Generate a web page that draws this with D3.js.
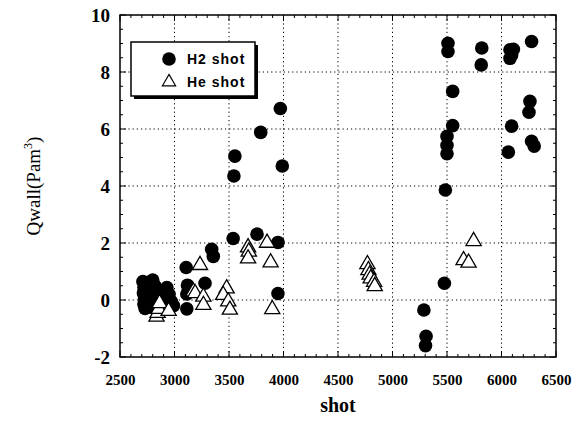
<!DOCTYPE html>
<html>
<head>
<meta charset="utf-8">
<script src="https://cdn.jsdelivr.net/npm/d3@7"></script>
<style>
  body { margin: 0; background: #fff; }
</style>
</head>
<body>
<div id="chart"></div>
<script>
// H2 shots: [shot, Qwall]
var h2Shots = [
    [2710,0.65],[2720,0.45],[2715,0.25],[2725,0.05],[2720,-0.15],[2730,-0.3],
    [2760,0.6],[2770,0.35],[2780,0.1],[2790,-0.1],[2800,0.7],[2820,0.5],
    [2830,0.3],[2850,0.15],[2760,-0.25],[2900,0.1],[2930,0.44],[2950,0.2],
    [2991,-0.2],[2970,-0.05],[2740,0.15],[2800,-0.25],
    [3107,1.14],[3119,0.52],[3113,0.21],[3113,-0.31],[3280,0.59],[3341,1.78],
    [3356,1.53],[3538,2.16],[3757,2.31],[3949,2.02],[3949,0.23],[3545,4.35],
    [3554,5.05],[3791,5.88],[3971,6.72],[3989,4.70],
    [5509,9.01],[5509,8.72],[5819,8.84],[5814,8.25],[6078,8.78],[6093,8.60],
    [6078,8.48],[6109,8.8],[6276,9.07],[5552,7.32],[5552,6.12],[6261,6.97],
    [6252,6.59],[6093,6.10],[5500,5.74],[5500,5.43],[5500,5.13],[6276,5.57],
    [6300,5.40],[6063,5.19],[5485,3.86],[5476,0.59],[5288,-0.35],[5308,-1.27],
    [5303,-1.6]
];
// He shots: [shot, Qwall]
var heShots = [
    [2835,-0.55],[2845,-0.42],[2855,-0.28],[2863,-0.08],[2946,-0.35],[3173,0.33],
    [3189,0.27],[3265,0.15],[3265,-0.14],[3234,1.26],[3478,0.44],[3447,0.21],
    [3493,-0.02],[3508,-0.31],[3675,1.88],[3682,1.73],[3675,1.49],[3849,2.04],
    [3882,1.35],[3897,-0.29],[4770,1.29],[4779,1.08],[4790,0.92],[4800,0.79],
    [4831,0.67],[4837,0.52],[5744,2.10],[5652,1.43],[5698,1.34]
];
var xTicks = [2500,3000,3500,4000,4500,5000,5500,6000,6500];
var yTicks = [-2,0,2,4,6,8,10];
var legendLabels = ["H2 shot", "He shot"];

var width = 576, height = 423;
var margin = {top: 15, right: 20, bottom: 66, left: 120};
var w = width - margin.left - margin.right;
var h = height - margin.top - margin.bottom;
var serif = "'Liberation Serif', 'DejaVu Serif', serif";

var svg = d3.select("#chart").append("svg")
    .attr("width", width)
    .attr("height", height);
var g = svg.append("g").attr("transform", "translate(" + margin.left + "," + margin.top + ")");

var x = d3.scaleLinear().domain([2500, 6500]).range([0, w]);
var y = d3.scaleLinear().domain([-2, 10]).range([h, 0]);

// dotted grid
g.append("g").selectAll("line").data(xTicks.slice(1, -1)).enter().append("line")
    .attr("x1", function(d){ return x(d); }).attr("x2", function(d){ return x(d); })
    .attr("y1", 0).attr("y2", h)
    .attr("stroke", "#000").attr("stroke-width", 1).attr("stroke-dasharray", "1.2,3");
g.append("g").selectAll("line").data(yTicks.slice(1, -1)).enter().append("line")
    .attr("y1", function(d){ return y(d); }).attr("y2", function(d){ return y(d); })
    .attr("x1", 0).attr("x2", w)
    .attr("stroke", "#000").attr("stroke-width", 1).attr("stroke-dasharray", "1.2,3");

// minor ticks (inward on all four sides)
var xMinor = d3.range(2600, 6500, 100).filter(function(d){ return d % 500 != 0; });
var yMinor = d3.range(-1.5, 10, 0.5).filter(function(d){ return d % 2 != 0; });
var ticksG = g.append("g").attr("stroke", "#000").attr("stroke-width", 1);
xMinor.forEach(function(d){
    ticksG.append("line").attr("x1", x(d)).attr("x2", x(d)).attr("y1", h).attr("y2", h - 3);
    ticksG.append("line").attr("x1", x(d)).attr("x2", x(d)).attr("y1", 0).attr("y2", 3);
});
xTicks.forEach(function(d){
    ticksG.append("line").attr("x1", x(d)).attr("x2", x(d)).attr("y1", h).attr("y2", h - 6);
    ticksG.append("line").attr("x1", x(d)).attr("x2", x(d)).attr("y1", 0).attr("y2", 6);
});
yMinor.forEach(function(d){
    ticksG.append("line").attr("y1", y(d)).attr("y2", y(d)).attr("x1", 0).attr("x2", 3);
    ticksG.append("line").attr("y1", y(d)).attr("y2", y(d)).attr("x1", w).attr("x2", w - 3);
});
yTicks.forEach(function(d){
    ticksG.append("line").attr("y1", y(d)).attr("y2", y(d)).attr("x1", 0).attr("x2", 6);
    ticksG.append("line").attr("y1", y(d)).attr("y2", y(d)).attr("x1", w).attr("x2", w - 6);
});

// frame
g.append("rect").attr("width", w).attr("height", h)
    .attr("fill", "none").attr("stroke", "#000").attr("stroke-width", 1.5);

// axes labels only (ticks drawn above)
var fmt = function(d){ return String(d); };
var xAxis = g.append("g").attr("transform", "translate(0," + h + ")")
    .call(d3.axisBottom(x).tickValues(xTicks).tickSize(0).tickPadding(17).tickFormat(fmt));
xAxis.select(".domain").remove();
var yAxis = g.append("g")
    .call(d3.axisLeft(y).tickValues(yTicks).tickSize(0).tickPadding(10).tickFormat(fmt));
yAxis.select(".domain").remove();
xAxis.selectAll("text").attr("fill", "#000")
    .style("font-family", serif).style("font-weight", "bold").style("font-size", "15px");
yAxis.selectAll("text").attr("fill", "#000")
    .style("font-family", serif).style("font-weight", "bold").style("font-size", "19px");

svg.append("text")
    .attr("x", margin.left + w / 2).attr("y", 412)
    .attr("text-anchor", "middle")
    .style("font-family", serif)
    .style("font-weight", "bold")
    .style("font-size", "20px")
    .text("shot");

var yl = svg.append("text")
    .attr("transform", "translate(40," + (margin.top + h / 2) + ") rotate(-90)")
    .attr("text-anchor", "middle")
    .style("font-family", serif)
    .style("font-size", "19px");
yl.append("tspan").text("Qwall(Pam");
yl.append("tspan").attr("dy", -8).style("font-size", "12px").text("3");
yl.append("tspan").attr("dy", 8).text(")");

// marks
var tri = d3.symbol().type(d3.symbolTriangle).size(100);
g.append("g").selectAll("circle").data(h2Shots).enter().append("circle")
    .attr("cx", function(d){ return x(d[0]); })
    .attr("cy", function(d){ return y(d[1]); })
    .attr("r", 6.8)
    .attr("fill", "#000");
g.append("g").selectAll("path").data(heShots).enter().append("path")
    .attr("d", tri)
    .attr("transform", function(d){ return "translate(" + x(d[0]) + "," + (y(d[1]) + 1) + ")"; })
    .attr("fill", "#fff")
    .attr("stroke", "#000")
    .attr("stroke-width", 1.3);

// legend with drop shadow
var lg = svg.append("g").attr("transform", "translate(131,42)");
lg.append("rect").attr("x", 3).attr("y", 3).attr("width", 124).attr("height", 54).attr("fill", "#000");
lg.append("rect").attr("width", 124).attr("height", 54).attr("fill", "#fff").attr("stroke", "#000").attr("stroke-width", 1.5);
lg.append("circle").attr("cx", 38).attr("cy", 17).attr("r", 6.8).attr("fill", "#000");
lg.append("path").attr("d", d3.symbol().type(d3.symbolTriangle).size(75)).attr("transform", "translate(38,40)")
    .attr("fill", "#fff").attr("stroke", "#000").attr("stroke-width", 1.2);
lg.selectAll("text.lab").data(legendLabels).enter().append("text")
    .attr("class", "lab")
    .attr("x", 56)
    .attr("y", function(d, i){ return 22 + i * 23; })
    .style("font-family", "'Liberation Sans', sans-serif")
    .style("font-weight", "bold")
    .style("font-size", "14px")
    .style("letter-spacing", "1px")
    .text(function(d){ return d; });
</script>
</body>
</html>
